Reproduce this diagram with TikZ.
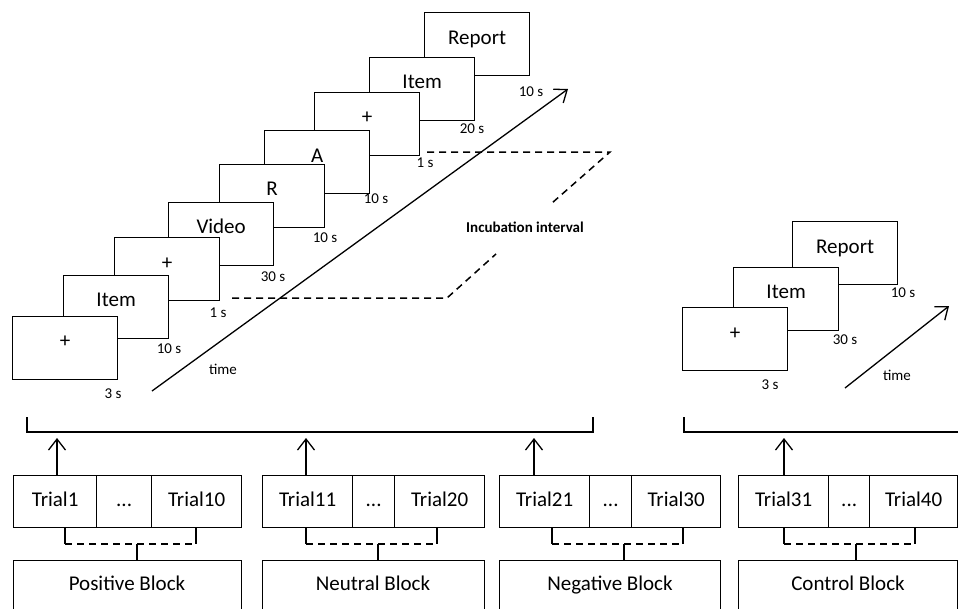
\documentclass[tikz,border=0pt]{standalone}
\usepackage{fontspec}
\setmainfont{Carlito}
\usetikzlibrary{arrows.meta,calc}
\begin{document}
\begin{tikzpicture}[x=1pt,y=-1pt,
  scr/.style={draw, fill=white, line width=1.3pt, minimum width=105pt, minimum height=63pt, inner sep=0pt, anchor=north west},
  scrtxt/.style={font=\fontsize{21}{24}\selectfont, inner sep=0pt, text height=13.5pt, text depth=4pt},
  dur/.style={font=\fontsize{15}{18}\selectfont, inner sep=0pt},
  cell/.style={draw, line width=1.3pt, minimum height=52pt, inner sep=0pt, anchor=north west, font=\fontsize{21}{24}\selectfont, text height=13.5pt, text depth=4pt},
  blk/.style={draw, line width=1.3pt, minimum height=60pt, inner sep=0pt, anchor=north west},
  blktxt/.style={font=\fontsize{21}{24}\selectfont, inner sep=0pt, text height=13.5pt, text depth=4pt},
  arr/.style={-{Straight Barb[length=11pt,width=17pt,line width=1.3pt]}, line width=1.3pt},
  ln/.style={line width=1.3pt},
  dsh/.style={dash pattern=on 7pt off 5pt, line width=1.5pt},
  tick/.style={line width=1.5pt}
]
\useasboundingbox (0,0) rectangle (958,608);
\clip (0,0) rectangle (958,608);

% ---------- main trial sequence (back to front) ----------
\node[scr] (b9) at (424,12) {};
\node[scr] (b8) at (369,57) {};
\node[scr] (b7) at (314,92) {};
\node[scr] (b6) at (264,130) {};
\node[scr] (b5) at (219,164) {};
\node[scr] (b4) at (168,202) {};
\node[scr] (b3) at (114,237) {};
\node[scr] (b2) at (63,275) {};
\node[scr] (b1) at (12,316) {};

\node[scrtxt] (t9) at ($(b9.north)+(0,28)$) {Report};
\node[scrtxt] (t8) at ($(b8.north)+(0,27)$) {Item};
\node[scrtxt] (t7) at ($(b7.north)+(0,27)$) {+};
\node[scrtxt] (t6) at ($(b6.north)+(0,28)$) {A};
\node[scrtxt] (t5) at ($(b5.north)+(0,27)$) {R};
\node[scrtxt] (t4) at ($(b4.north)+(0,27)$) {Video};
\node[scrtxt] (t3) at ($(b3.north)+(0,28)$) {+};
\node[scrtxt] (t2) at ($(b2.north)+(0,27)$) {Item};
\node[scrtxt] (t1) at ($(b1.north)+(0,27)$) {+};

\node[dur] (d1) at (113,394) {3 s};
\node[dur] (d2) at (169,349) {10 s};
\node[dur] (d3) at (218,313) {1 s};
\node[dur] (d4) at (273,277) {30 s};
\node[dur] (d5) at (325,238) {10 s};
\node[dur] (d6) at (376,199) {10 s};
\node[dur] (d7) at (425,163) {1 s};
\node[dur] (d8) at (472,129) {20 s};
\node[dur] (d9) at (531,92) {10 s};

% time arrow
\coordinate (ta0) at (152,391);
\coordinate (ta1) at (568,89);
\draw[arr] (ta0) -- (ta1);
\node[dur] (time1) at (223,369) {time};

% incubation interval
\coordinate (i1) at (232,298);
\coordinate (i2) at (447,298);
\coordinate (i3) at (496,254);
\coordinate (i4) at (427,152);
\coordinate (i5) at (610,152);
\coordinate (i6) at (552,203);
\draw[dsh] (i1) -- (i2) -- (i3);
\draw[dsh] (i4) -- (i5) -- (i6);
\node[dur, font=\fontsize{15}{18}\selectfont\bfseries] (inc) at (525,227) {Incubation interval};

% ---------- control sequence ----------
\node[scr] (c3) at (792,221) {};
\node[scr] (c2) at (733,267) {};
\node[scr] (c1) at (682,307) {};
\node[scrtxt] (ct3) at ($(c3.north)+(0,28)$) {Report};
\node[scrtxt] (ct2) at ($(c2.north)+(0,27)$) {Item};
\node[scrtxt] (ct1) at ($(c1.north)+(0,28)$) {+};
\node[dur] (cd1) at (770,385) {3 s};
\node[dur] (cd2) at (845,340) {30 s};
\node[dur] (cd3) at (903,293) {10 s};
\coordinate (tb0) at (845,388);
\coordinate (tb1) at (949,306);
\draw[arr] (tb0) -- (tb1);
\node[dur] (time2) at (897,375) {time};

% ---------- brackets ----------
\coordinate (k1) at (27,417);
\coordinate (k2) at (27,432);
\coordinate (k3) at (593,432);
\coordinate (k4) at (593,417);
\draw[ln] (k1) -- (k2) -- (k3) -- (k4);
\coordinate (k5) at (684,417);
\coordinate (k6) at (684,432);
\coordinate (k7) at (962,432);
\draw[ln] (k5) -- (k6) -- (k7);

% ---------- trial rows ----------
\node[cell, minimum width=83pt] (r1a) at (13,475) {Trial1};
\node[cell, minimum width=55pt] (r1b) at (96,475) {...};
\node[cell, minimum width=90pt] (r1c) at (151,475) {Trial10};

\node[cell, minimum width=90pt] (r2a) at (262,475) {Trial11};
\node[cell, minimum width=42pt] (r2b) at (352,475) {...};
\node[cell, minimum width=90pt] (r2c) at (394,475) {Trial20};

\node[cell, minimum width=90pt] (r3a) at (499,475) {Trial21};
\node[cell, minimum width=42pt] (r3b) at (589,475) {...};
\node[cell, minimum width=89pt] (r3c) at (631,475) {Trial30};

\node[cell, minimum width=90pt] (r4a) at (738,475) {Trial31};
\node[cell, minimum width=41pt] (r4b) at (828,475) {...};
\node[cell, minimum width=88pt] (r4c) at (869,475) {Trial40};

% arrows up
\coordinate (a1) at (57,438);
\coordinate (a2) at (306,438);
\coordinate (a3) at (534,438);
\coordinate (a4) at (784,438);
\draw[arr] (r1a.north -| a1) -- (a1);
\draw[arr] (r2a.north -| a2) -- (a2);
\draw[arr] (r3a.north -| a3) -- (a3);
\draw[arr] (r4a.north -| a4) -- (a4);

% ---------- blocks ----------
\node[blk, minimum width=228pt] (p1) at (13,560) {};
\node[blk, minimum width=222pt] (p2) at (262,560) {};
\node[blk, minimum width=221pt] (p3) at (499,560) {};
\node[blk, minimum width=219pt] (p4) at (738,560) {};
\node[blktxt] (pt1) at (127,586) {Positive Block};
\node[blktxt] (pt2) at (373,586) {Neutral Block};
\node[blktxt] (pt3) at (610,586) {Negative Block};
\node[blktxt] (pt4) at (848,586) {Control Block};

% dashed braces between trials and blocks
\foreach \n/\l/\r/\m in {1/65/196/137, 2/306/437/378, 3/552/683/624, 4/784/915/856}{
  \coordinate (bl\n) at (\l,544);
  \coordinate (br\n) at (\r,544);
  \coordinate (bm\n) at (\m,544);
  \draw[tick] (r\n a.south -| bl\n) -- (bl\n);
  \draw[tick] (r\n a.south -| br\n) -- (br\n);
  \draw[dsh] (bl\n) -- (br\n);
  \draw[tick] (bm\n) -- (p\n.north -| bm\n);
}
\end{tikzpicture}
\end{document}
